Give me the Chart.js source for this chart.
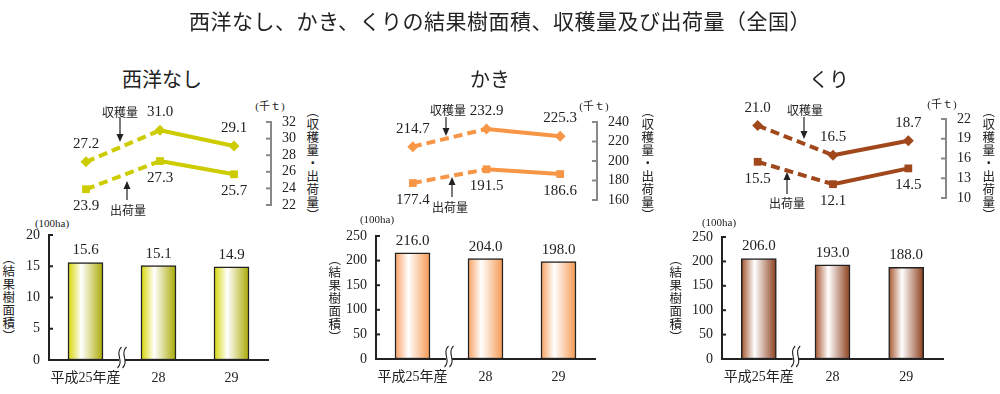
<!DOCTYPE html>
<html lang="ja">
<head>
<meta charset="utf-8">
<script src="https://cdn.jsdelivr.net/npm/chart.js@4.4.1/dist/chart.umd.min.js"></script>
<style>
  html, body { margin: 0; padding: 0; background: #fff; }
  #stage { position: relative; width: 1000px; height: 394px; overflow: hidden; font-family: 'Noto Sans CJK JP', sans-serif; color: #222; }
  #stage canvas { position: absolute; left: 0; top: 0; }
  .t { position: absolute; transform: translate(-50%, -50%); white-space: nowrap; }
  .title { font-size: 21px; letter-spacing: 0.5px; }
  .sub { font-size: 20px; }
  .unit { font-size: 11px; font-family: 'Liberation Serif', 'Noto Sans CJK JP', serif; }
  .vert { writing-mode: vertical-rl; font-size: 12.5px; line-height: 1; letter-spacing: 0.5px; }
</style>
</head>
<body>
<div id="stage"></div>
<script>
// 年産
const categories = ['平成25年産', '28', '29'];

// 西洋なし
const pearArea = [15.6, 15.1, 14.9];      // 結果樹面積 (100ha)
const pearHarvest = [27.2, 31.0, 29.1];   // 収穫量 (千t)
const pearShipment = [23.9, 27.3, 25.7];  // 出荷量 (千t)
const pearAreaTicks = [0, 5, 10, 15, 20];
const pearVolumeTicks = [22, 24, 26, 28, 30, 32];

// かき
const persimmonArea = [216.0, 204.0, 198.0];
const persimmonHarvest = [214.7, 232.9, 225.3];
const persimmonShipment = [177.4, 191.5, 186.6];
const persimmonAreaTicks = [0, 50, 100, 150, 200, 250];
const persimmonVolumeTicks = [160, 180, 200, 220, 240];

// くり
const chestnutArea = [206.0, 193.0, 188.0];
const chestnutHarvest = [21.0, 16.5, 18.7];
const chestnutShipment = [15.5, 12.1, 14.5];
const chestnutAreaTicks = [0, 50, 100, 150, 200, 250];
const chestnutVolumeTicks = [10, 13, 16, 19, 22];

const W = 1000, H = 394;
const SERIF = '"Liberation Serif", "Noto Sans CJK JP", serif';

const panels = [
  {
    name: '西洋なし', nameX: 162,
    area: pearArea, harvest: pearHarvest, shipment: pearShipment,
    areaTicks: pearAreaTicks, volumeTicks: pearVolumeTicks,
    line: '#cccc00', barStops: ['#d6d600', '#ffffff', '#a9a900'],
    bar: { l: 49, r: 268, t: 235, b: 360 }, plot: { l: 49, r: 271, t: 122, b: 205 },
    notes: [
      { text: '収穫量', tx: 120, ty: 112, ax: 120, from: 118, to: 142 },
      { text: '出荷量', tx: 128, ty: 210, ax: 127, from: 200, to: 181 }
    ],
    unitArea: [52, 223], unitVol: [270, 105], vVol: [312, 163], vArea: [8, 297]
  },
  {
    name: 'かき', nameX: 490,
    area: persimmonArea, harvest: persimmonHarvest, shipment: persimmonShipment,
    areaTicks: persimmonAreaTicks, volumeTicks: persimmonVolumeTicks,
    line: '#f79646', barStops: ['#f7a060', '#ffffff', '#f59850'],
    bar: { l: 376, r: 595, t: 236, b: 359 }, plot: { l: 376, r: 597, t: 122, b: 200 },
    notes: [
      { text: '収穫量', tx: 448, ty: 110, ax: 446, from: 117, to: 136 },
      { text: '出荷量', tx: 450, ty: 207, ax: 452, from: 197, to: 177 }
    ],
    unitArea: [377, 219], unitVol: [594, 105], vVol: [647, 163], vArea: [334, 298]
  },
  {
    name: 'くり', nameX: 829,
    area: chestnutArea, harvest: chestnutHarvest, shipment: chestnutShipment,
    areaTicks: chestnutAreaTicks, volumeTicks: chestnutVolumeTicks,
    line: '#a0481c', barStops: ['#a4532c', '#ffffff', '#8c3e1c'],
    bar: { l: 722, r: 943, t: 237, b: 359 }, plot: { l: 720, r: 946, t: 119, b: 198 },
    notes: [
      { text: '収穫量', tx: 805, ty: 110, ax: 804, from: 117, to: 139 },
      { text: '出荷量', tx: 787, ty: 203, ax: 787, from: 194, to: 172 }
    ],
    unitArea: [719, 222], unitVol: [942, 103], vVol: [988, 163], vArea: [675, 298]
  }
];

const stage = document.getElementById('stage');
function addText(cls, text, x, y) {
  const d = document.createElement('div');
  d.className = 't ' + cls;
  d.textContent = text;
  d.style.left = x + 'px';
  d.style.top = y + 'px';
  stage.appendChild(d);
}
function addCanvas() {
  const c = document.createElement('canvas');
  c.width = W; c.height = H;
  stage.appendChild(c);
  return c;
}

// value labels above/below each mark
const valueLabels = {
  id: 'valueLabels',
  afterDatasetsDraw(chart) {
    const ctx = chart.ctx;
    ctx.save();
    ctx.font = '15px ' + SERIF;
    ctx.fillStyle = '#222';
    ctx.textAlign = 'center';
    ctx.textBaseline = 'middle';
    chart.data.datasets.forEach((ds, i) => {
      chart.getDatasetMeta(i).data.forEach((el, j) => {
        ctx.fillText(ds.data[j].toFixed(1), el.x, el.y + ds.labelDy);
      });
    });
    ctx.restore();
  }
};

// short tick marks pointing into the plot
const innerTicks = {
  id: 'innerTicks',
  afterDraw(chart, args, opts) {
    const s = chart.scales.y;
    const ctx = chart.ctx;
    const x = opts.dir > 0 ? s.right : s.left;
    ctx.save();
    ctx.strokeStyle = opts.color;
    ctx.lineWidth = 2;
    s.ticks.forEach((t, i) => {
      const y = s.getPixelForTick(i);
      ctx.beginPath();
      ctx.moveTo(x, y);
      ctx.lineTo(x + opts.dir * opts.len, y);
      ctx.stroke();
    });
    ctx.restore();
  }
};

// wavy break on the year axis between 25 and 28
const axisBreak = {
  id: 'axisBreak',
  afterDraw(chart) {
    const x = chart.scales.x.getPixelForValue(0.5);
    const y = chart.chartArea.bottom;
    const ctx = chart.ctx;
    ctx.save();
    ctx.fillStyle = '#fff';
    ctx.fillRect(x - 3, y - 2, 6, 4);
    ctx.strokeStyle = '#222';
    ctx.lineWidth = 1.1;
    [-2.5, 2.5].forEach(dx => {
      ctx.beginPath();
      ctx.moveTo(x + dx + 2, y - 13);
      ctx.bezierCurveTo(x + dx - 5, y - 6, x + dx + 5, y + 1, x + dx - 2, y + 8);
      ctx.stroke();
    });
    ctx.restore();
  }
};

// 収穫量 / 出荷量 call-outs with arrows
const notes = {
  id: 'notes',
  afterDraw(chart, args, opts) {
    const ctx = chart.ctx;
    ctx.save();
    ctx.font = '12px "Noto Sans CJK JP", sans-serif';
    ctx.fillStyle = '#222';
    ctx.strokeStyle = '#222';
    ctx.lineWidth = 1.2;
    ctx.textAlign = 'center';
    ctx.textBaseline = 'middle';
    opts.items.forEach(n => {
      ctx.fillText(n.text, n.tx, n.ty);
      const d = Math.sign(n.to - n.from);
      ctx.beginPath();
      ctx.moveTo(n.ax, n.from);
      ctx.lineTo(n.ax, n.to - d * 4);
      ctx.stroke();
      ctx.beginPath();
      ctx.moveTo(n.ax, n.to);
      ctx.lineTo(n.ax - 3.5, n.to - d * 8);
      ctx.lineTo(n.ax + 3.5, n.to - d * 8);
      ctx.closePath();
      ctx.fill();
    });
    ctx.restore();
  }
};

Chart.defaults.font.family = SERIF;
Chart.defaults.color = '#222';

panels.forEach(p => {
  addText('sub', p.name, p.nameX, 78);
  addText('unit', '(100ha)', p.unitArea[0], p.unitArea[1]);
  addText('unit', '(千ｔ)', p.unitVol[0], p.unitVol[1]);
  addText('vert', '（収穫量・出荷量）', p.vVol[0], p.vVol[1]);
  addText('vert', '（結果樹面積）', p.vArea[0], p.vArea[1]);

  // 結果樹面積 bars
  const b = p.bar;
  new Chart(addCanvas(), {
    type: 'bar',
    data: {
      labels: categories,
      datasets: [{
        data: p.area,
        labelDy: -12,
        barThickness: 35,
        borderColor: '#222',
        borderWidth: 1.5,
        borderSkipped: false,
        backgroundColor: c => {
          const xs = c.chart.scales.x;
          const x = xs ? xs.getPixelForValue(c.dataIndex) : NaN;
          if (!isFinite(x)) return p.barStops[0];
          const g = c.chart.ctx.createLinearGradient(x - 17.5, 0, x + 17.5, 0);
          g.addColorStop(0, p.barStops[0]);
          g.addColorStop(0.38, p.barStops[1]);
          g.addColorStop(1, p.barStops[2]);
          return g;
        }
      }]
    },
    options: {
      responsive: false,
      animation: false,
      events: [],
      layout: { padding: { left: b.l - 45, right: W - b.r, top: b.t, bottom: H - b.b - 30 } },
      plugins: {
        legend: { display: false },
        tooltip: { enabled: false },
        innerTicks: { dir: 1, color: '#222', len: 4 }
      },
      scales: {
        x: {
          grid: { display: false, drawTicks: false },
          border: { color: '#222', width: 2 },
          ticks: { font: { size: 14 }, padding: 10, autoSkip: false, maxRotation: 0 },
          afterFit: s => { s.height = 30; }
        },
        y: {
          min: p.areaTicks[0],
          max: p.areaTicks[p.areaTicks.length - 1],
          grid: { display: false, drawTicks: false },
          border: { color: '#222', width: 2 },
          ticks: { stepSize: p.areaTicks[1] - p.areaTicks[0], font: { size: 14 }, padding: 9, autoSkip: false },
          afterFit: s => { s.width = 45; }
        }
      }
    },
    plugins: [valueLabels, innerTicks, axisBreak]
  });

  // 収穫量・出荷量 lines
  const q = p.plot;
  const dash = c => (c.p0DataIndex === 0 ? [9, 5] : []);
  new Chart(addCanvas(), {
    type: 'line',
    data: {
      labels: categories,
      datasets: [
        {
          label: '収穫量', data: p.harvest, labelDy: -18,
          borderColor: p.line, backgroundColor: p.line, borderWidth: 4,
          pointStyle: 'rectRot', pointRadius: 5.5, pointBorderWidth: 0,
          segment: { borderDash: dash }, clip: false
        },
        {
          label: '出荷量', data: p.shipment, labelDy: 17,
          borderColor: p.line, backgroundColor: p.line, borderWidth: 4,
          pointStyle: 'rect', pointRadius: 5.5, pointBorderWidth: 0,
          segment: { borderDash: dash }, clip: false
        }
      ]
    },
    options: {
      responsive: false,
      animation: false,
      events: [],
      layout: { padding: { left: q.l, right: W - q.r - 40, top: q.t, bottom: H - q.b } },
      plugins: {
        legend: { display: false },
        tooltip: { enabled: false },
        innerTicks: { dir: -1, color: '#888', len: 5 },
        notes: { items: p.notes }
      },
      scales: {
        x: { display: false, offset: true },
        y: {
          position: 'right',
          min: p.volumeTicks[0],
          max: p.volumeTicks[p.volumeTicks.length - 1],
          grid: { display: false, drawTicks: false },
          border: { color: '#888', width: 2 },
          ticks: { stepSize: p.volumeTicks[1] - p.volumeTicks[0], font: { size: 14 }, padding: 11, autoSkip: false },
          afterFit: s => { s.width = 40; }
        }
      }
    },
    plugins: [valueLabels, innerTicks, notes]
  });
});

addText('title', '西洋なし、かき、くりの結果樹面積、収穫量及び出荷量（全国）', 500, 20);
</script>
</body>
</html>
